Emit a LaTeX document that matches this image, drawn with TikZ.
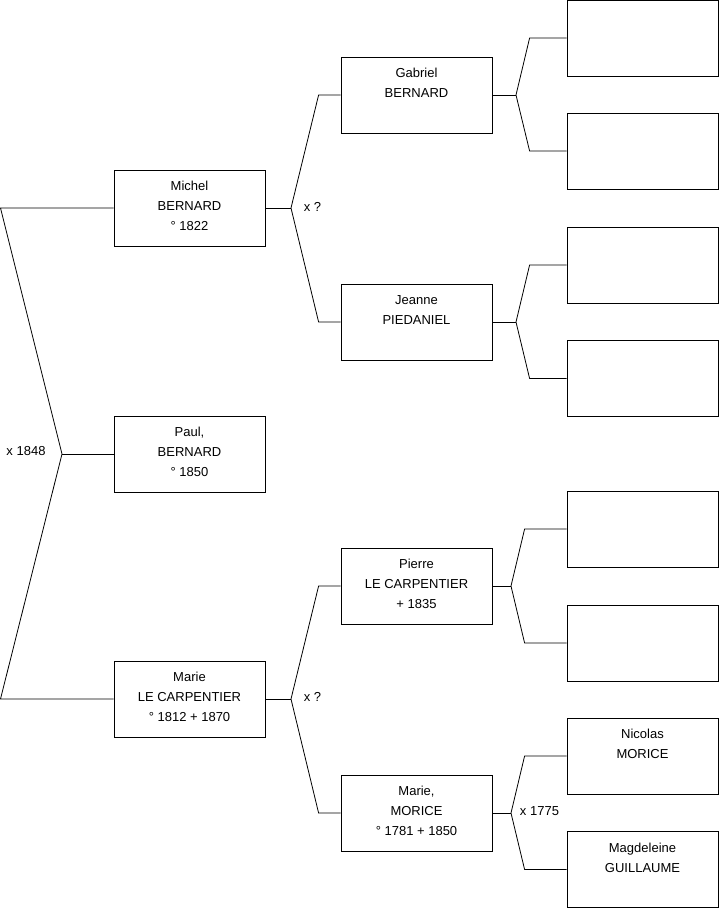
\documentclass[tikz,border=0pt]{standalone}
\usepackage{fontspec}
\setmainfont{Liberation Sans}
\usetikzlibrary{positioning,calc}
\tikzset{
  box/.style={rectangle, draw, align=center, font=\fontsize{13}{20}\selectfont,
              minimum width=151pt, minimum height=76pt, inner sep=0pt,
              line width=0.8pt, fill=white},
  link/.style={line width=0.8pt},
  lbl/.style={font=\fontsize{13}{15}\selectfont, inner sep=0pt}
}

\begin{document}
\begin{tikzpicture}[x=1pt, y=-1pt]
  \useasboundingbox (0,0) rectangle (719,908);
  % generation 1
  \node[box] (paul) at (189.5,454) {Paul,\\BERNARD\\° 1850\\[-16pt]};
  % generation 2
  \node[box] (michel) at (189.5,208) {Michel\\BERNARD\\° 1822\\[-16pt]};
  \node[box] (marie) at (189.5,699) {Marie\\LE CARPENTIER\\° 1812 + 1870\\[-16pt]};
  % generation 3
  \node[box] (gabriel) at (416.5,95) {Gabriel\\BERNARD\\~\\[-16pt]};
  \node[box] (jeanne) at (416.5,322) {Jeanne\\PIEDANIEL\\~\\[-16pt]};
  \node[box] (pierre) at (416.5,586) {Pierre\\LE CARPENTIER\\+ 1835\\[-16pt]};
  \node[box] (mmorice) at (416.5,813) {Marie,\\MORICE\\° 1781 + 1850\\[-16pt]};
  % generation 4
  \node[box] (g1) at (642.5,38) {};
  \node[box] (g2) at (642.5,151) {};
  \node[box] (j1) at (642.5,265) {};
  \node[box] (j2) at (642.5,378.5) {};
  \node[box] (p1) at (642.5,529) {};
  \node[box] (p2) at (642.5,643) {};
  \node[box] (nicolas) at (642.5,756) {Nicolas\\MORICE\\~\\[-16pt]};
  \node[box] (magdeleine) at (642.5,869.5) {Magdeleine\\GUILLAUME\\~\\[-16pt]};

  % bend points
  \coordinate (vpaul) at (62,454);
  \coordinate (ctop) at (0.5,208);
  \coordinate (cbot) at (0.5,699);
  \coordinate (vmichel) at (291,208);
  \coordinate (vmarie) at (291,699);
  \coordinate (vgabriel) at (516,95);
  \coordinate (vjeanne) at (516,322);
  \coordinate (vpierre) at (511,586);
  \coordinate (vmorice) at (511,813);

  % links
  \draw[link] (michel.west) -- (ctop) -- (vpaul) -- (cbot) -- (marie.west);
  \draw[link] (vpaul) -- (paul.west);
  \draw[link] (michel.east) -- (vmichel);
  \draw[link] (gabriel.west) -- ++(-22,0) -- (vmichel) -- ($(jeanne.west)+(-22,0)$) -- (jeanne.west);
  \draw[link] (marie.east) -- (vmarie);
  \draw[link] (pierre.west) -- ++(-22,0) -- (vmarie) -- ($(mmorice.west)+(-22,0)$) -- (mmorice.west);
  \draw[link] (gabriel.east) -- (vgabriel);
  \draw[link] (g1.west) -- ++(-37,0) -- (vgabriel) -- ($(g2.west)+(-37,0)$) -- (g2.west);
  \draw[link] (jeanne.east) -- (vjeanne);
  \draw[link] (j1.west) -- ++(-37,0) -- (vjeanne) -- ($(j2.west)+(-37,0)$) -- (j2.west);
  \draw[link] (pierre.east) -- (vpierre);
  \draw[link] (p1.west) -- ++(-42,0) -- (vpierre) -- ($(p2.west)+(-42,0)$) -- (p2.west);
  \draw[link] (mmorice.east) -- (vmorice);
  \draw[link] (nicolas.west) -- ++(-42,0) -- (vmorice) -- ($(magdeleine.west)+(-42,0)$) -- (magdeleine.west);

  % marriage labels
  \node[lbl] (m1848) at (26,451) {x 1848};
  \node[lbl] (mq1) at (312.5,207) {x ?};
  \node[lbl] (mq2) at (312.5,697) {x ?};
  \node[lbl] (m1775) at (539.5,811) {x 1775};
\end{tikzpicture}
\end{document}
